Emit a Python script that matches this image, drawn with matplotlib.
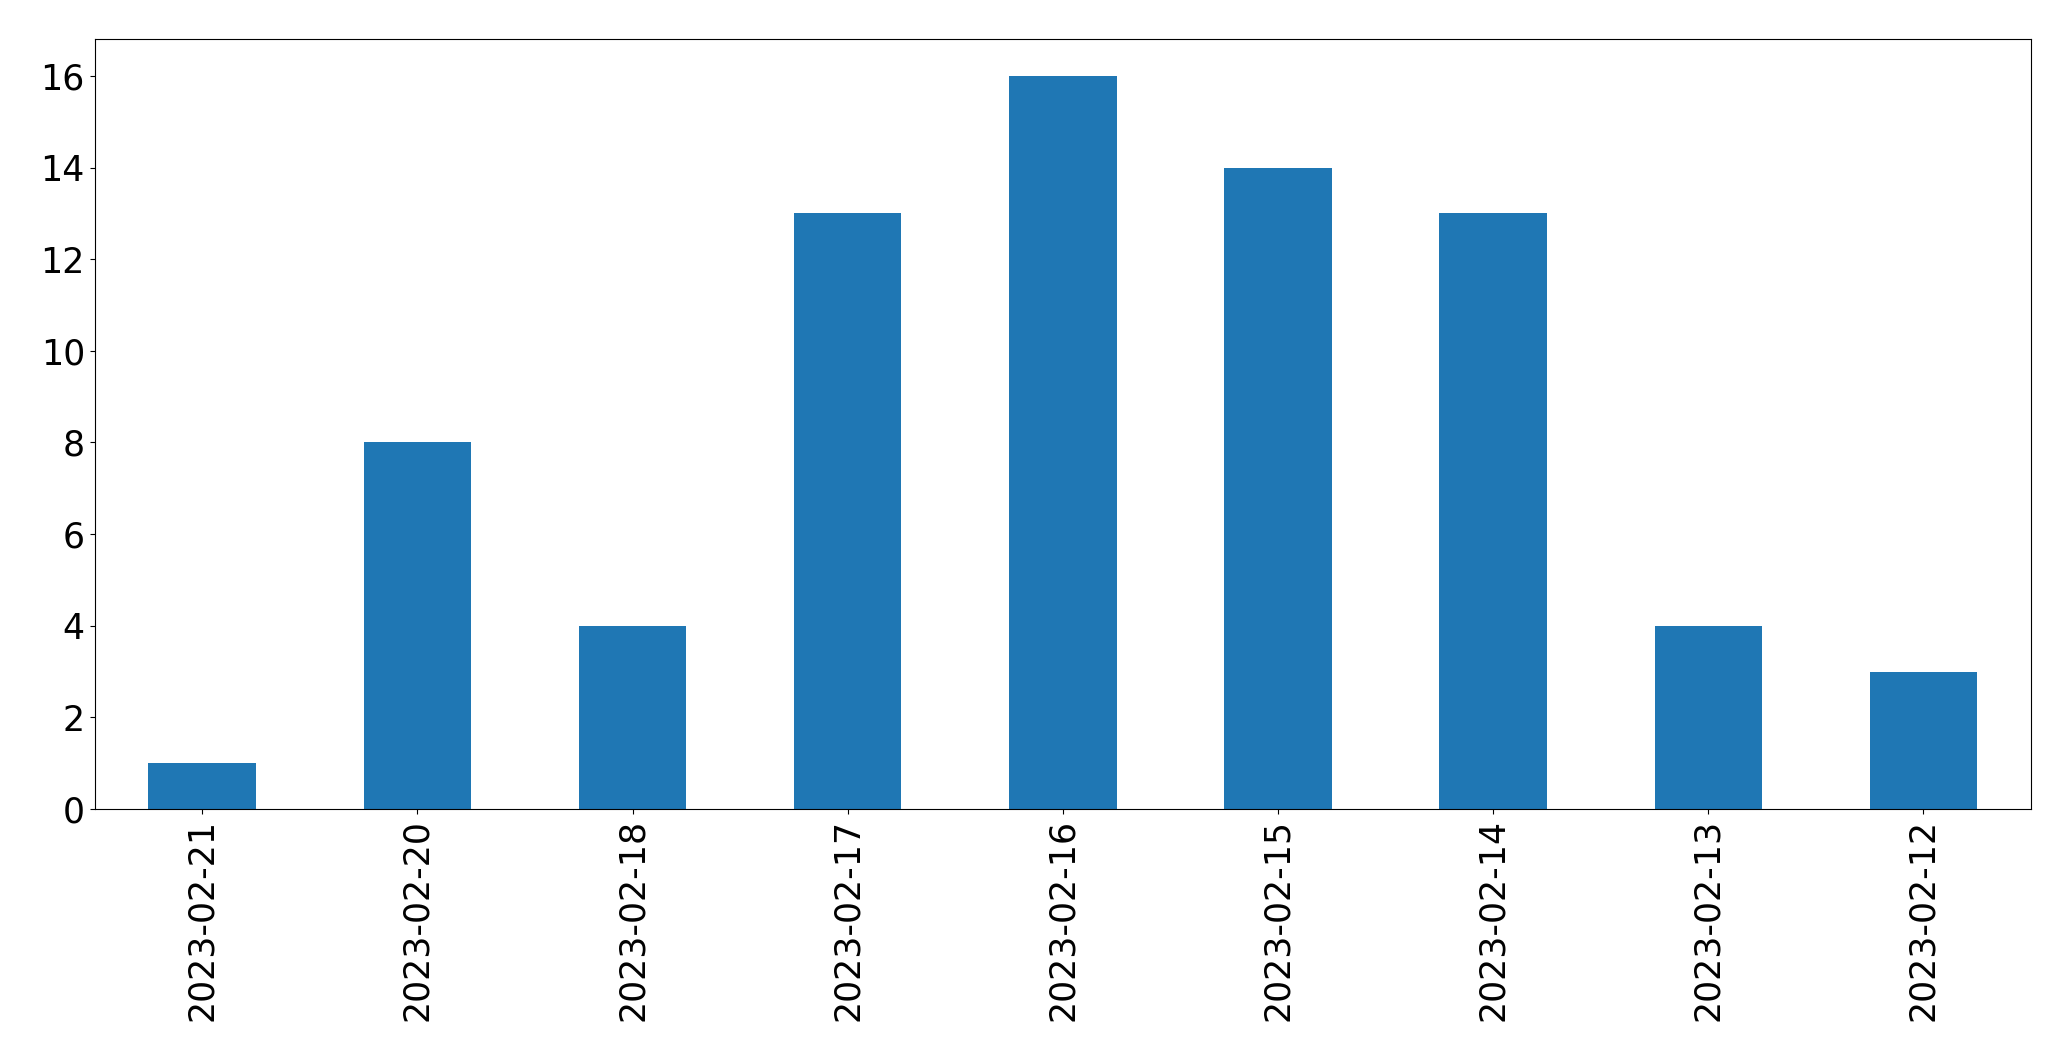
import matplotlib
matplotlib.use("Agg")
import matplotlib.pyplot as plt

dates = ["2023-02-21", "2023-02-20", "2023-02-18", "2023-02-17", "2023-02-16",
         "2023-02-15", "2023-02-14", "2023-02-13", "2023-02-12"]
counts = [1, 8, 4, 13, 16, 14, 13, 4, 3]

fig = plt.figure(figsize=(20.71, 10.61), dpi=100)
ax = fig.add_axes([0.0457, 0.2375, 0.9807 - 0.0457, 0.963 - 0.2375])
x = list(range(len(dates)))
ax.bar(x, counts, width=0.5, color="#1f77b4")
ax.set_xlim(-0.5, len(dates) - 0.5)
ax.set_ylim(0, max(counts) * 1.05)
ax.set_xticks(x)
ax.set_xticklabels(dates, rotation=90)
ax.set_yticks(range(0, 17, 2))
ax.tick_params(labelsize=25)
fig.savefig("out.png", dpi=100)
